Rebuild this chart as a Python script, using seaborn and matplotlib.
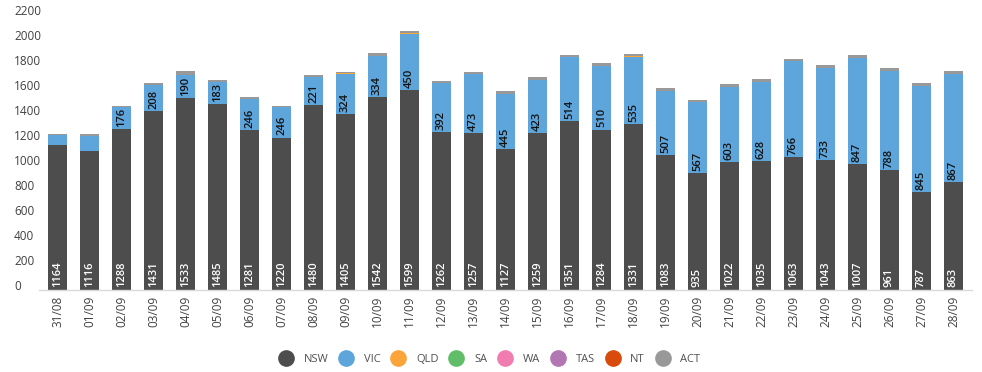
import numpy as np
import pandas as pd
import seaborn as sns
import matplotlib.pyplot as plt
from matplotlib.lines import Line2D
from matplotlib.transforms import ScaledTranslation

# daily cases by state, 31/08 - 28/09
dates = ['31/08', '01/09', '02/09', '03/09', '04/09', '05/09', '06/09', '07/09',
         '08/09', '09/09', '10/09', '11/09', '12/09', '13/09', '14/09', '15/09',
         '16/09', '17/09', '18/09', '19/09', '20/09', '21/09', '22/09', '23/09',
         '24/09', '25/09', '26/09', '27/09', '28/09']
nsw = [1164, 1116, 1288, 1431, 1533, 1485, 1281, 1220, 1480, 1405, 1542, 1599,
       1262, 1257, 1127, 1259, 1351, 1284, 1331, 1083, 935, 1022, 1035, 1063,
       1043, 1007, 961, 787, 863]
vic = [76, 120, 176, 208, 190, 183, 246, 246, 221, 324, 334, 450, 392, 473, 445,
       423, 514, 510, 535, 507, 567, 603, 628, 766, 733, 847, 788, 845, 867]
qld = [0, 0, 0, 0, 0, 0, 0, 0, 0, 6, 0, 6, 0, 0, 0, 0, 0, 0, 3, 0, 0, 0, 0, 0,
       0, 0, 0, 0, 0]
sa = [0] * 29
wa = [0] * 29
tas = [0] * 29
nt = [0] * 29
act = [5, 13, 12, 15, 32, 12, 15, 10, 18, 13, 21, 16, 16, 13, 22, 22, 19, 22, 20,
       25, 20, 23, 23, 17, 28, 28, 27, 24, 24]

states = ['NSW', 'VIC', 'QLD', 'SA', 'WA', 'TAS', 'NT', 'ACT']
colors = ['#4d4d4d', '#5da5da', '#faa43a', '#60bd68', '#f17cb0', '#b276b2',
          '#d84b0c', '#999999']

df = pd.DataFrame({'date': dates, 'NSW': nsw, 'VIC': vic, 'QLD': qld, 'SA': sa,
                   'WA': wa, 'TAS': tas, 'NT': nt, 'ACT': act})

sns.set_theme(style='white')
plt.rcParams['font.family'] = ['Open Sans', 'DejaVu Sans']

fig = plt.figure(figsize=(9.82, 3.72), dpi=100)
ax = fig.add_axes([39 / 982, 82 / 372, 933 / 982, 275 / 372])

# stacked bars: draw cumulative totals from the top layer down
cum = df[states].cumsum(axis=1)
for state, col in reversed(list(zip(states, colors))):
    sns.barplot(x=df['date'], y=cum[state], color=col, saturation=1, width=0.6,
                linewidth=0, ax=ax)

# value labels (NSW white, VIC black) at the base of each segment
for i in range(len(dates)):
    ax.annotate(str(nsw[i]), (i, 0), xytext=(0, 2), textcoords='offset points',
                rotation=90, ha='center', va='bottom', fontsize=8,
                fontweight='semibold', color='white')
    if vic[i] >= 150:
        ax.annotate(str(vic[i]), (i, nsw[i]), xytext=(0, 1.5),
                    textcoords='offset points', rotation=90, ha='center',
                    va='bottom', fontsize=8, fontweight='semibold', color='#111111')

ax.set_xlim(-0.58, len(dates) - 1 + 0.58)
ax.set_ylim(0, 2200)
ax.set_yticks(range(0, 2201, 200))
ax.set_xlabel('')
ax.set_ylabel('')

for s in ['top', 'right', 'left']:
    ax.spines[s].set_visible(False)
ax.spines['bottom'].set_color('#d9d9d9')
ax.spines['bottom'].set_linewidth(1)

ax.tick_params(axis='y', length=0, pad=18, labelsize=8.5, labelcolor='#404040')
ax.tick_params(axis='x', length=0, pad=4, labelsize=8.5, labelcolor='#404040',
               labelrotation=90)
shift = ScaledTranslation(0, 0.05, fig.dpi_scale_trans)
for lbl in ax.get_yticklabels():
    lbl.set_ha('left')
    lbl.set_transform(lbl.get_transform() + shift)

handles = [Line2D([], [], marker='o', linestyle='', markersize=11,
                  markerfacecolor=c, markeredgecolor=c) for c in colors]
fig.legend(handles, states, loc='center', bbox_to_anchor=(491 / 982, 1 - 359 / 372),
           ncol=8, frameon=False, fontsize=8, labelcolor='#505050',
           handlelength=0.8, handletextpad=1.2, columnspacing=1.2)

fig.savefig('out.png', dpi=100)
